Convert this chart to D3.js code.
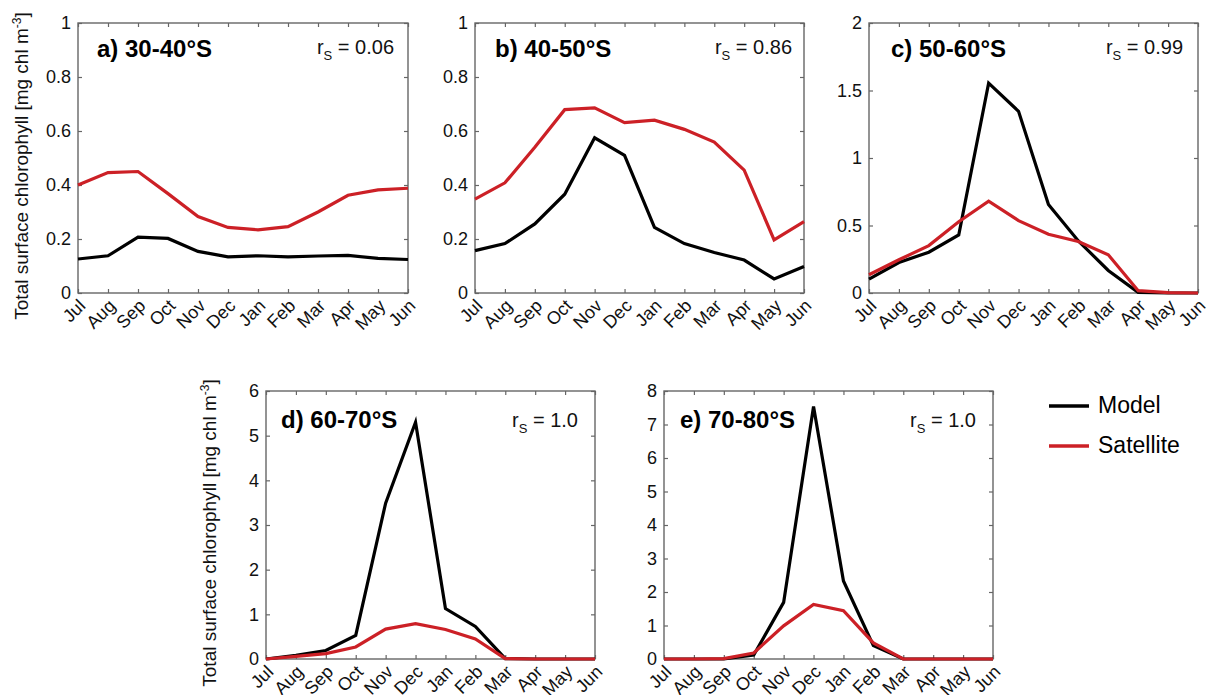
<!DOCTYPE html>
<html>
<head>
<meta charset="utf-8">
<script src="https://cdn.jsdelivr.net/npm/d3@7"></script>
<style>
  body { margin: 0; background: #fff; }
  svg { display: block; font-family: "Liberation Sans", Arial, Helvetica, sans-serif; }
  .axis-box { fill: none; stroke: #666; stroke-width: 1.4; }
  .tick-mark { stroke: #666; stroke-width: 1.2; }
  .tick-label { font-size: 18px; fill: #111; }
  .month-label { font-size: 18px; fill: #111; }
  .panel-title { font-size: 24px; font-weight: bold; fill: #000; }
  .rs-label { font-size: 20px; fill: #111; }
  .y-title { font-size: 19px; fill: #111; }
  .legend-text { font-size: 23px; fill: #000; }
</style>
</head>
<body>
<svg id="chart" width="1211" height="695"></svg>
<script>
// months on the x axis
const months = ['Jul', 'Aug', 'Sep', 'Oct', 'Nov', 'Dec', 'Jan', 'Feb', 'Mar', 'Apr', 'May', 'Jun'];

// a) 30-40S
const model3040 = [0.126, 0.138, 0.207, 0.202, 0.154, 0.134, 0.138, 0.134, 0.137, 0.139, 0.128, 0.124];
const sat3040   = [0.400, 0.446, 0.450, 0.368, 0.283, 0.243, 0.234, 0.246, 0.300, 0.362, 0.382, 0.388];
// b) 40-50S
const model4050 = [0.157, 0.183, 0.256, 0.366, 0.575, 0.510, 0.243, 0.183, 0.150, 0.122, 0.052, 0.098];
const sat4050   = [0.348, 0.408, 0.540, 0.679, 0.686, 0.631, 0.640, 0.606, 0.559, 0.455, 0.197, 0.264];
// c) 50-60S
const model5060 = [0.103, 0.226, 0.302, 0.430, 1.555, 1.346, 0.656, 0.386, 0.167, 0.005, 0.0, 0.0];
const sat5060   = [0.135, 0.246, 0.351, 0.528, 0.681, 0.536, 0.435, 0.381, 0.283, 0.017, 0.003, 0.0];
// d) 60-70S
const model6070 = [0.0, 0.08, 0.19, 0.53, 3.49, 5.30, 1.13, 0.73, 0.01, 0.0, 0.0, 0.0];
const sat6070   = [0.0, 0.06, 0.12, 0.27, 0.67, 0.79, 0.66, 0.45, 0.01, 0.0, 0.0, 0.0];
// e) 70-80S
const model7080 = [0.0, 0.0, 0.0, 0.12, 1.69, 7.54, 2.33, 0.40, 0.0, 0.0, 0.0, 0.0];
const sat7080   = [0.0, 0.0, 0.01, 0.18, 0.99, 1.63, 1.44, 0.48, 0.0, 0.0, 0.0, 0.0];

// y ticks per panel
const ticks3040 = [0, 0.2, 0.4, 0.6, 0.8, 1];
const ticks4050 = [0, 0.2, 0.4, 0.6, 0.8, 1];
const ticks5060 = [0, 0.5, 1, 1.5, 2];
const ticks6070 = [0, 1, 2, 3, 4, 5, 6];
const ticks7080 = [0, 1, 2, 3, 4, 5, 6, 7, 8];

const titles = ['a) 30-40°S', 'b) 40-50°S', 'c) 50-60°S', 'd) 60-70°S', 'e) 70-80°S'];
const rsValues = ['0.06', '0.86', '0.99', '1.0', '1.0'];
const seriesNames = ['Model', 'Satellite'];
const seriesColors = ['#000000', '#cc2026'];

class ChlPanel {

  /**
   * One small-multiple line panel
   */
  constructor(_config, _data) {
    this.config = {
      parentElement: _config.parentElement,
      left: _config.left,
      top: _config.top,
      width: _config.width,
      height: _config.height,
      yTicks: _config.yTicks,
      title: _config.title,
      titleOffset: _config.titleOffset,
      rs: _config.rs,
      rsOffset: _config.rsOffset,
      yTitle: _config.yTitle || false
    }
    this.data = _data;
    this.initVis();
  }

  initVis() {
    let vis = this;

    vis.width = vis.config.width;
    vis.height = vis.config.height;

    vis.xScale = d3.scalePoint()
        .domain(months)
        .range([0, vis.width]);

    vis.yScale = d3.scaleLinear()
        .domain(d3.extent(vis.config.yTicks))
        .range([vis.height, 0]);

    vis.chart = d3.select(vis.config.parentElement).append('g')
        .attr('transform', `translate(${vis.config.left},${vis.config.top})`);

    // bottom axis: inward ticks, rotated month names
    vis.xAxis = d3.axisBottom(vis.xScale).tickSizeInner(-4).tickSizeOuter(0).tickPadding(0);
    vis.xAxisG = vis.chart.append('g')
        .attr('transform', `translate(0,${vis.height})`)
        .call(vis.xAxis);
    vis.xAxisG.select('.domain').remove();
    vis.xAxisG.selectAll('.tick line').attr('class', 'tick-mark').attr('stroke', null);
    vis.xAxisG.selectAll('.tick text')
        .attr('class', 'month-label')
        .attr('fill', null)
        .attr('font-size', null)
        .attr('font-family', null)
        .attr('text-anchor', 'end')
        .attr('dy', null)
        .attr('y', 0)
        .attr('transform', 'translate(8,14) rotate(-45)');

    // top ticks
    vis.xTopG = vis.chart.append('g')
        .call(d3.axisTop(vis.xScale).tickSizeInner(-4).tickSizeOuter(0).tickFormat(''));
    vis.xTopG.select('.domain').remove();
    vis.xTopG.selectAll('.tick line').attr('class', 'tick-mark').attr('stroke', null);

    // left axis
    vis.yAxis = d3.axisLeft(vis.yScale).tickValues(vis.config.yTicks)
        .tickSizeInner(-4).tickSizeOuter(0).tickPadding(7).tickFormat(d3.format('~g'));
    vis.yAxisG = vis.chart.append('g').call(vis.yAxis);
    vis.yAxisG.select('.domain').remove();
    vis.yAxisG.selectAll('.tick line').attr('class', 'tick-mark').attr('stroke', null);
    vis.yAxisG.selectAll('.tick text')
        .attr('class', 'tick-label')
        .attr('fill', null)
        .attr('font-size', null)
        .attr('font-family', null);

    // right ticks
    vis.yRightG = vis.chart.append('g')
        .attr('transform', `translate(${vis.width},0)`)
        .call(d3.axisRight(vis.yScale).tickValues(vis.config.yTicks)
          .tickSizeInner(-4).tickSizeOuter(0).tickFormat(''));
    vis.yRightG.select('.domain').remove();
    vis.yRightG.selectAll('.tick line').attr('class', 'tick-mark').attr('stroke', null);

    // frame
    vis.chart.append('rect')
        .attr('class', 'axis-box')
        .attr('width', vis.width)
        .attr('height', vis.height);

    // panel title and spearman r
    vis.chart.append('text')
        .attr('class', 'panel-title')
        .attr('x', vis.config.titleOffset[0])
        .attr('y', vis.config.titleOffset[1])
        .text(vis.config.title);

    const rs = vis.chart.append('text')
        .attr('class', 'rs-label')
        .attr('text-anchor', 'end')
        .attr('x', vis.width - vis.config.rsOffset[0])
        .attr('y', vis.config.rsOffset[1]);
    rs.append('tspan').text('r');
    rs.append('tspan').attr('font-size', 13).attr('dy', 6).text('S');
    rs.append('tspan').attr('dy', -6).text(' = ' + vis.config.rs);

    if (vis.config.yTitle) {
      const yt = vis.chart.append('text')
          .attr('class', 'y-title')
          .attr('text-anchor', 'middle')
          .attr('transform', `translate(-50,${vis.height / 2 + 8}) rotate(-90)`);
      yt.append('tspan').text('Total surface chlorophyll [mg chl m');
      yt.append('tspan').attr('font-size', 12).attr('dy', -7).text('-3');
      yt.append('tspan').attr('dy', 7).text(']');
    }

    vis.updateVis();
  }

  updateVis() {
    let vis = this;
    vis.line = d3.line()
        .x((d, i) => vis.xScale(months[i]))
        .y(d => vis.yScale(d));
    vis.renderVis();
  }

  renderVis() {
    let vis = this;
    vis.chart.selectAll('.series')
        .data(vis.data)
      .join('path')
        .attr('class', 'series')
        .attr('d', d => vis.line(d.values))
        .attr('fill', 'none')
        .attr('stroke', d => d.color)
        .attr('stroke-width', 3.2)
        .attr('stroke-linejoin', 'miter');
  }
}

const panelData = [
  [model3040, sat3040],
  [model4050, sat4050],
  [model5060, sat5060],
  [model6070, sat6070],
  [model7080, sat7080]
];
const panelTicks = [ticks3040, ticks4050, ticks5060, ticks6070, ticks7080];

// panel placement (pixels)
const layout = [
  {left: 78, top: 23, width: 330, height: 270, titleOffset: [19, 34], rsOffset: [14, 31], yTitle: true},
  {left: 475, top: 23, width: 329, height: 270, titleOffset: [20, 34], rsOffset: [12, 31]},
  {left: 869, top: 23, width: 329, height: 270, titleOffset: [22, 34], rsOffset: [15, 31]},
  {left: 266, top: 391, width: 329, height: 268, titleOffset: [15, 37], rsOffset: [17, 36], yTitle: true},
  {left: 664, top: 391, width: 329, height: 268, titleOffset: [16, 37], rsOffset: [17, 36]}
];

layout.forEach((l, i) => {
  new ChlPanel({
    parentElement: '#chart',
    left: l.left, top: l.top, width: l.width, height: l.height,
    yTicks: panelTicks[i],
    title: titles[i],
    titleOffset: l.titleOffset,
    rs: rsValues[i],
    rsOffset: l.rsOffset,
    yTitle: l.yTitle
  }, panelData[i].map((v, j) => ({name: seriesNames[j], color: seriesColors[j], values: v})));
});

// legend
const legend = d3.select('#chart').append('g')
    .attr('transform', 'translate(1049,406)');
const legendItems = legend.selectAll('.legend-item')
    .data(seriesNames)
  .join('g')
    .attr('class', 'legend-item')
    .attr('transform', (d, i) => `translate(0,${i * 40})`);
legendItems.append('line')
    .attr('x1', 0).attr('x2', 40)
    .attr('stroke', (d, i) => seriesColors[i])
    .attr('stroke-width', 3.5);
legendItems.append('text')
    .attr('class', 'legend-text')
    .attr('x', 49)
    .attr('y', 7)
    .text(d => d);
</script>
</body>
</html>
